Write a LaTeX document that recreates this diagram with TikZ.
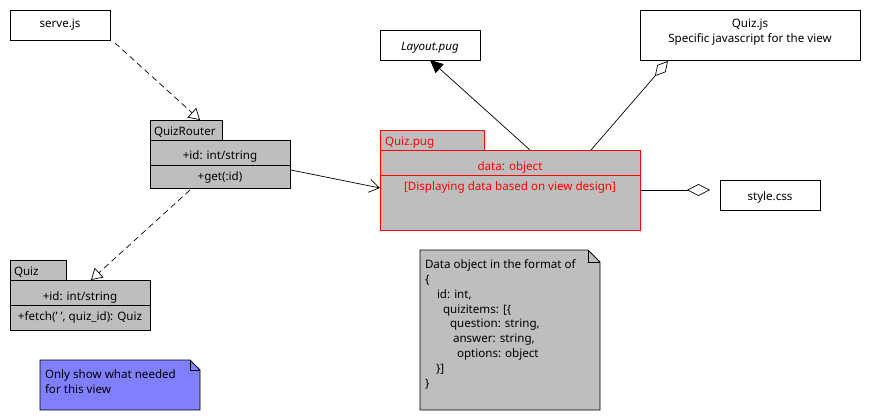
\documentclass[tikz,border=0pt]{standalone}
\usepackage{fontspec}
\setmainfont{Noto Sans}
\usetikzlibrary{arrows.meta,calc}
\definecolor{umlgray}{RGB}{190,190,190}
\definecolor{noteblue}{RGB}{128,128,255}
\definecolor{umlred}{RGB}{255,0,0}
\begin{document}
\begin{tikzpicture}[x=1pt,y=-1pt,
  font=\fontsize{11.6}{14.9}\selectfont,
  line width=0.9pt,
  box/.style={draw=black,fill=white,inner sep=0pt,outer sep=0pt,anchor=north west},
  gbox/.style={draw=black,fill=umlgray,inner sep=0pt,outer sep=0pt,anchor=north west},
  rbox/.style={draw=umlred,fill=umlgray,inner sep=0pt,outer sep=0pt,anchor=north west},
  txt/.style={inner sep=0pt,outer sep=0pt,yshift=-2.5pt},
  ltxt/.style={inner sep=0pt,outer sep=0pt,anchor=west,yshift=-2.5pt},
  conn/.style={line width=0.7pt},
  dep/.style={conn,dashed,dash pattern=on 6pt off 4pt,-{Triangle[open,length=11pt,width=13pt]}},
  assoc/.style={conn,-{Straight Barb[length=10pt,width=13pt]}},
  gen/.style={conn,-{Triangle[length=13pt,width=12pt]}},
  aggr/.style={conn,-{Diamond[open,length=20pt,width=11pt]}},
]
\useasboundingbox (0,0) rectangle (870,420);

% serve.js
\node[box,minimum width=100pt,minimum height=30pt] (serve) at (10,10) {};
\node[txt] (servet) at (60,22) {serve.js};

% QuizRouter
\node[gbox,minimum width=72pt,minimum height=20pt] (qrtab) at (150,120) {};
\node[gbox,minimum width=140pt,minimum height=48pt] (qr) at (150,140) {};
\draw ($(qr.north west)+(0,25)$) -- ($(qr.north east)+(0,25)$);
\node[ltxt] (qrname) at (154,130) {QuizRouter};
\node[txt] (qrid) at (220,154) {+id: int/string};
\node[txt] (qrget) at (220,175) {+get(:id)};

% Quiz
\node[gbox,minimum width=56pt,minimum height=20pt] (quiztab) at (10,260) {};
\node[gbox,minimum width=140pt,minimum height=50pt] (quiz) at (10,280) {};
\draw ($(quiz.north west)+(0,25)$) -- ($(quiz.north east)+(0,25)$);
\node[ltxt] (quizname) at (14,270) {Quiz};
\node[txt] (quizid) at (80,295) {+id: int/string};
\node[txt] (quizfetch) at (80,315) {+fetch(' ', quiz\_id): Quiz};

% blue note
\filldraw[fill=noteblue,draw=black] (40,360) -- (190,360) -- (200,370) -- (200,410) -- (40,410) -- cycle;
\draw (190,360) -- (190,370) -- (200,370);
\node[ltxt,align=left,anchor=north west] (bnote) at (45,367) {Only show what needed\\for this view};

% Layout.pug
\node[box,minimum width=100pt,minimum height=30pt] (layout) at (380,30) {};
\node[txt] (layoutt) at (430,45) {\itshape Layout.pug};

% Quiz.js
\node[box,minimum width=220pt,minimum height=50pt] (qjs) at (640,10) {};
\node[txt,align=center] (qjst) at (750,30) {Quiz.js\\Specific javascript for the view};

% Quiz.pug
\node[rbox,minimum width=104pt,minimum height=20pt] (qpugtab) at (380,130) {};
\node[rbox,minimum width=260pt,minimum height=80pt] (qpug) at (380,150) {};
\draw[umlred] ($(qpug.north west)+(0,25)$) -- ($(qpug.north east)+(0,25)$);
\node[ltxt,text=umlred] (qpugname) at (385,140) {Quiz.pug};
\node[txt,text=umlred] (qpugdata) at (510,165) {data: object};
\node[txt,text=umlred] (qpugdisp) at (510,185) {[Displaying data based on view design]};

% style.css
\node[box,minimum width=100pt,minimum height=30pt] (style) at (720,180) {};
\node[txt] (stylet) at (770,195) {style.css};

% data note
\filldraw[fill=umlgray,draw=black] (420,250) -- (588,250) -- (600,262) -- (600,410) -- (420,410) -- cycle;
\draw (588,250) -- (588,262) -- (600,262);
\node[ltxt,align=left,anchor=north west] (dnote) at (425,257) {Data object in the format of\\
{\{}\\
\hspace*{12pt}id: int,\\
\hspace*{18pt}quizitems: [\{\\
\hspace*{25pt}question: string,\\
\hspace*{28pt}answer: string,\\
\hspace*{32pt}options: object\\
\hspace*{11pt}\}]\\
\}};

% connectors
\draw[dep] ($(serve.south east)+(5,3)$) -- ($(qrtab.north west)+(50,0)$);
\draw[dep] ($(qr.south)+(-30,2)$) -- ($(quiz.north west)+(81,0)$);
\draw[assoc] ($(qr.east)+(1,6)$) -- ($(qpug.west)+(0,-2)$);
\draw[gen] ($(qpug.north west)+(150,0)$) -- (layout.south);
\draw[aggr] ($(qpug.north west)+(211,0)$) -- ($(qjs.south west)+(28,1)$);
\draw[conn,-{Diamond[open,length=23pt,width=12pt]}] ($(qpug.east)+(0,0)$) -- ($(style.west)+(-10,-5)$);
\end{tikzpicture}
\end{document}
